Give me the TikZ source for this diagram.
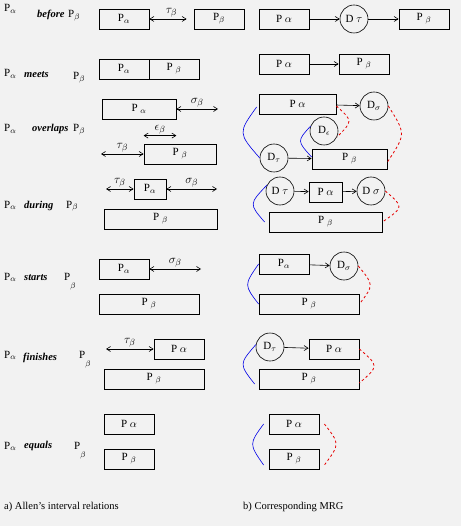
\documentclass[tikz,border=0pt]{standalone}
\usepackage{fontspec}
\setmainfont{Liberation Serif}
\usetikzlibrary{arrows.meta}
\definecolor{bggray}{RGB}{242,242,242}
\definecolor{mrgblue}{RGB}{0,0,230}
\definecolor{mrgred}{RGB}{230,0,0}

\begin{document}
\begin{tikzpicture}[x=1pt, y=-1pt, font=\fontsize{11}{13}\selectfont,
        box/.style={rectangle, draw, line width=0.8pt, minimum height=20pt, inner sep=0pt},
        dnode/.style={circle, draw, line width=0.6pt, minimum size=28pt, inner sep=0pt},
        rel/.style={anchor=base west, inner sep=0pt, font=\fontsize{10.5}{12}\selectfont\bfseries\itshape},
        txt/.style={anchor=base west, inner sep=0pt},
        arrow/.style={->, >={Straight Barb[length=4pt,width=5pt]}, line width=0.6pt},
        dbl/.style={<->, >={Straight Barb[length=4pt,width=5pt]}, line width=0.6pt},
        lbl/.style={above, inner sep=1pt, font=\fontsize{13}{15}\selectfont},
        startlink/.style={mrgblue, line width=0.6pt},
        endlink/.style={mrgred, line width=0.8pt, dash pattern=on 2.5pt off 2.5pt}]

    \fill[bggray] (0,0) rectangle (461,526);
    \useasboundingbox (0,0) rectangle (461,526);

    % a) Allen's interval relations
    \node[txt] (pa1) at (4,12) {P$_\alpha$};
    \node[rel] (r1) at (37,18) {before};
    \node[txt] (pb1) at (68,18) {P$_\beta$};
    \node[box, minimum width=50pt] (la1) at (124,19) {P$_\alpha$};
    \node[box, minimum width=50pt] (lb1) at (219,19) {P$_\beta$};
    \draw[dbl, shorten >=7pt] (la1) -- (lb1) node[midway, lbl] {$\tau_\beta$};

    \node[txt] (pa2) at (4,77) {P$_\alpha$};
    \node[rel] (r2) at (24,78) {meets};
    \node[txt] (pb2) at (73,80) {P$_\beta$};
    \node[box, minimum width=50pt] (la2) at (124,69) {P$_\alpha$};
    \node[box, minimum width=50pt] (lb2) at (174,69) {P $_\beta$};

    \node[txt] (pa3) at (4,132) {P$_\alpha$};
    \node[rel] (r3) at (32,132) {overlaps};
    \node[txt] (pb3) at (73,132) {P$_\beta$};
    \node[box, minimum width=74pt] (la3) at (139,109) {P $_\alpha$};
    \node[box, minimum width=72pt] (lb3) at (180,154) {P $_\beta$};
    \coordinate (s3) at (218,109);
    \coordinate (t3) at (101,154);
    \path (lb3.north west) ++(0,-8) coordinate (e3l);
    \path (la3.east |- e3l) coordinate (e3r);
    \draw[dbl] (la3) -- (s3) node[midway, lbl] {$\sigma_\beta$};
    \draw[dbl] (e3l) -- (e3r) node[midway, lbl] {$\epsilon_\beta$};
    \draw[dbl] (t3) -- (lb3) node[midway, lbl] {$\tau_\beta$};

    \node[txt] (pa4) at (4,208) {P$_\alpha$};
    \node[rel] (r4) at (24,208) {during};
    \node[txt] (pb4) at (66,208) {P$_\beta$};
    \node[box, minimum width=32pt] (la4) at (150,189) {P$_\alpha$};
    \node[box, minimum width=113pt] (lb4) at (160.5,219) {P $_\beta$\hspace{20pt}};
    \coordinate (t4) at (106,189);
    \coordinate (s4) at (217,189);
    \draw[dbl] (t4) -- (la4) node[midway, lbl] {$\tau_\beta$};
    \draw[dbl] (la4) -- (s4) node[midway, lbl] {$\sigma_\beta$};

    \node[txt] (pa5) at (4,280) {P$_\alpha$};
    \node[rel] (r5) at (24,280) {starts};
    \node[txt] (pb5) at (64,280) {P\raisebox{-7pt}{$_\beta$}};
    \node[box, minimum width=50pt] (la5) at (124,269) {P$_\alpha$};
    \node[box, minimum width=100pt] (lb5) at (149,304) {P $_\beta$\hspace{7pt}};
    \coordinate (s5) at (201,269);
    \draw[dbl] (la5) -- (s5) node[midway, lbl] {$\sigma_\beta$};

    \node[txt] (pa6) at (4,358) {P$_\alpha$};
    \node[rel] (r6) at (23,360) {finishes};
    \node[txt] (pb6) at (79,358) {P\raisebox{-7pt}{$_\beta$}};
    \node[box, minimum width=50pt] (la6) at (179,349) {P $\alpha$};
    \node[box, minimum width=100pt] (lb6) at (154,379) {P $_\beta$\hspace{17pt}};
    \coordinate (t6) at (106,349);
    \draw[dbl] (t6) -- (la6) node[midway, lbl] {$\tau_\beta$};

    \node[txt] (pa7) at (4,449) {P$_\alpha$};
    \node[rel] (r7) at (24,448) {equals};
    \node[txt] (pb7) at (74,449) {P\raisebox{-7pt}{$_\beta$}};
    \node[box, minimum width=50pt] (la7) at (129,424) {P $\alpha$};
    \node[box, minimum width=50pt] (lb7) at (129,459) {P $_\beta$};

    \node[txt, font=\fontsize{10.5}{12}\selectfont] (capa) at (4,509) {a) Allen's interval relations};

    % b) Corresponding MRG
    \node[box, minimum width=50pt] (ra1) at (284,19) {P $\alpha$};
    \node[dnode] (rd1) at (354,19) {D $\tau$};
    \node[box, minimum width=50pt] (rb1) at (424,19) {P $_\beta$};
    \draw[arrow] (ra1) -- (rd1);
    \draw[arrow] (rd1) -- (rb1);

    \node[box, minimum width=50pt] (ra2) at (284,64) {P $\alpha$};
    \node[box, minimum width=50pt] (rb2) at (364,64) {P $_\beta$};
    \draw[arrow] (ra2) -- (rb2);

    \node[box, minimum width=77pt] (ra3) at (297.5,104) {P $\alpha$};
    \node[dnode] (rds3) at (374,106) {D$_\sigma$};
    \node[dnode] (rde3) at (324,131) {D$_\epsilon$};
    \node[dnode] (rdt3) at (274,158) {D$_\tau$};
    \node[box, minimum width=75pt] (rb3) at (349.5,159) {P $_\beta$};
    \draw[arrow] (ra3) -- (rds3);
    \draw[arrow] (rdt3) -- (rb3);
    \draw[startlink] ([xshift=-2pt,yshift=-3pt]ra3.west) .. controls (238,133) .. (rdt3.west);
    \draw[startlink] (rde3.160) .. controls (297,141) .. ([yshift=2pt]rb3.west);
    \draw[endlink] ([yshift=-2pt]ra3.east) .. controls (353,121) .. (rde3.-25);
    \draw[endlink] (rds3.east) .. controls (406,134) .. ([yshift=-3pt]rb3.east);

    \node[dnode] (rdt4) at (280,191) {D $\tau$};
    \node[box, minimum width=33pt] (ra4) at (325.5,192) {P $\alpha$};
    \node[dnode] (rds4) at (371,191) {D $\sigma$};
    \node[box, minimum width=113pt] (rb4) at (325.5,222) {P $_\beta$\hspace{20pt}};
    \draw[arrow] (rdt4) -- (ra4);
    \draw[arrow] (ra4) -- (rds4);
    \draw[startlink] (rdt4.155) .. controls (249,204) .. ([xshift=-4pt]rb4.west);
    \draw[endlink] (rds4.east) .. controls (404,207) .. (rb4.east);

    \node[box, minimum width=50pt] (ra5) at (284,264) {P$_\alpha$};
    \node[dnode] (rds5) at (344,266) {D$_\sigma$};
    \node[box, minimum width=100pt] (rb5) at (309,304) {P $_\beta$\hspace{47pt}};
    \draw[arrow] (ra5) -- (rds5);
    \draw[startlink] (ra5.west) .. controls (244,285) .. (rb5.west);
    \draw[endlink] (rds5.east) .. controls (374,285) .. (rb5.east);

    \node[dnode] (rdt6) at (270,347) {D$_\tau$};
    \node[box, minimum width=50pt] (ra6) at (334,349) {P $\alpha$};
    \node[box, minimum width=100pt] (rb6) at (309,379) {P $_\beta$\hspace{16pt}};
    \draw[arrow] (rdt6) -- (ra6);
    \draw[startlink] (rdt6.170) .. controls (239,364) .. ([xshift=-4pt,yshift=-5pt]rb6.west);
    \draw[endlink] (ra6.east) .. controls (379,366) .. ([yshift=-4pt]rb6.east);

    \node[box, minimum width=50pt] (ra7) at (294,424) {P $\alpha$};
    \node[box, minimum width=50pt] (rb7) at (294,459) {P $_\beta$};
    \draw[startlink] ([xshift=-5pt]ra7.west) .. controls (249,444) .. ([xshift=-5pt,yshift=-6pt]rb7.west);
    \draw[endlink] ([xshift=5pt]ra7.east) .. controls (340,444) .. ([xshift=5pt,yshift=-6pt]rb7.east);

    \node[txt, font=\fontsize{10.5}{12}\selectfont] (capb) at (243,509) {b) Corresponding MRG};
\end{tikzpicture}
\end{document}
